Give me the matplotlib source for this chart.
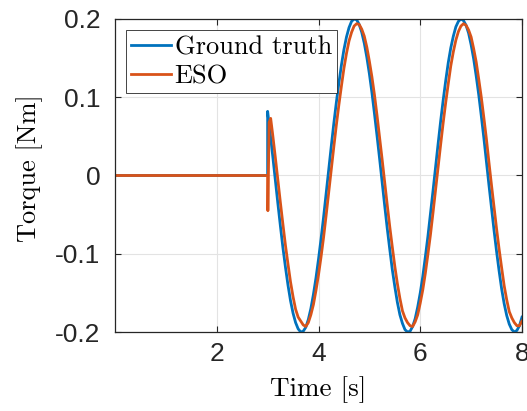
import numpy as np
import matplotlib
matplotlib.use("Agg")
import matplotlib.pyplot as plt

# ground truth disturbance torque, sampled every 0.05 s from t = 3 s
t_gt = [0.0, 3.0] + [round(3.0 + 0.05 * i, 2) for i in range(101)]
torque_gt = [0.0, 0.0,
             0.082, 0.054, 0.025, -0.005, -0.035, -0.064, -0.092, -0.117, -0.140, -0.160,
             -0.176, -0.188, -0.196, -0.200, -0.199, -0.194, -0.184, -0.170, -0.152, -0.131,
             -0.107, -0.081, -0.053, -0.023, 0.007, 0.037, 0.066, 0.093, 0.118, 0.141,
             0.161, 0.177, 0.189, 0.197, 0.200, 0.199, 0.193, 0.183, 0.169, 0.151,
             0.130, 0.106, 0.079, 0.051, 0.022, -0.008, -0.038, -0.067, -0.094, -0.120,
             -0.142, -0.162, -0.178, -0.189, -0.197, -0.200, -0.199, -0.193, -0.183, -0.168,
             -0.150, -0.129, -0.104, -0.078, -0.049, -0.020, 0.010, 0.040, 0.069, 0.096,
             0.121, 0.144, 0.163, 0.178, 0.190, 0.197, 0.200, 0.198, 0.192, 0.182,
             0.167, 0.149, 0.127, 0.103, 0.076, 0.048, 0.018, -0.012, -0.041, -0.070,
             -0.097, -0.122, -0.145, -0.164, -0.179, -0.190, -0.197, -0.200, -0.198, -0.192,
             -0.181]

# ESO estimate: initial transient, then lagging the ground truth a little
t_eso = [0.0, 3.0, 3.005, 3.03, 3.06] + [round(3.10 + 0.05 * i, 2) for i in range(99)]
torque_eso = [0.0, 0.0, -0.045, 0.068, 0.073,
              0.052, 0.024, -0.005, -0.034, -0.062, -0.089, -0.113, -0.136, -0.155, -0.171,
              -0.181, -0.186, -0.191, -0.193, -0.188, -0.178, -0.165, -0.147, -0.127, -0.104,
              -0.079, -0.051, -0.022, 0.007, 0.036, 0.064, 0.090, 0.114, 0.137, 0.156,
              0.172, 0.183, 0.191, 0.194, 0.193, 0.187, 0.178, 0.164, 0.146, 0.126,
              0.103, 0.077, 0.049, 0.021, -0.008, -0.037, -0.065, -0.091, -0.116, -0.138,
              -0.157, -0.173, -0.182, -0.188, -0.192, -0.193, -0.187, -0.178, -0.163, -0.146,
              -0.125, -0.101, -0.076, -0.048, -0.019, 0.010, 0.039, 0.067, 0.093, 0.117,
              0.140, 0.158, 0.173, 0.184, 0.191, 0.194, 0.192, 0.186, 0.177, 0.162,
              0.145, 0.123, 0.100, 0.074, 0.047, 0.017, -0.012, -0.040, -0.068, -0.094,
              -0.118, -0.141, -0.159, -0.174, -0.182, -0.188, -0.192, -0.192, -0.186]

xticks = [2, 4, 6, 8]
yticks = [-0.2, -0.1, 0, 0.1, 0.2]
ytick_labels = ["-0.2", "-0.1", "0", "0.1", "0.2"]

blue = "#0072BD"
orange = "#D95319"
dark = "#262626"

fig = plt.figure(figsize=(5.27, 4.11), dpi=100)
ax = fig.add_axes([115 / 527, 79 / 411, 407 / 527, 313 / 411])

ax.plot(t_gt, torque_gt, color=blue, lw=2.0, label="Ground truth")
ax.plot(t_eso, torque_eso, color=orange, lw=2.0, label="ESO")

ax.set_xlim(0, 8)
ax.set_ylim(-0.2, 0.2)
ax.set_xticks(xticks)
ax.set_xticklabels([str(v) for v in xticks])
ax.set_yticks(yticks)
ax.set_yticklabels(ytick_labels)

ax.grid(True, color="#e3e3e3", lw=0.8)
ax.set_axisbelow(True)
for s in ax.spines.values():
    s.set_color(dark)
    s.set_linewidth(0.9)
ax.tick_params(direction="in", length=4, width=0.8, color=dark,
               top=True, right=True, labelsize=19, labelcolor=dark)
ax.tick_params(axis="y", pad=10.5)
ax.tick_params(axis="x", pad=7.5)
for lab in ax.get_xticklabels() + ax.get_yticklabels():
    lab.set_fontfamily("Liberation Sans")

ax.set_xlabel("Time [s]", fontfamily="cmr10", fontsize=19.5)
ax.set_ylabel("Torque [Nm]", fontfamily="cmr10", fontsize=19)
ax.xaxis.set_label_coords(0.5, -0.14)
ax.yaxis.set_label_coords(-0.177, 0.525)

leg = ax.legend(loc="upper left", bbox_to_anchor=(10.7 / 407, 1 - 11 / 313),
                borderaxespad=0, fancybox=False, framealpha=1, edgecolor=dark,
                prop={"family": "cmr10", "size": 19}, handlelength=1.5,
                handletextpad=0.15, borderpad=0.2, labelspacing=0.2)
leg.get_frame().set_linewidth(0.6)

fig.savefig("out.png", dpi=100, facecolor="white")
